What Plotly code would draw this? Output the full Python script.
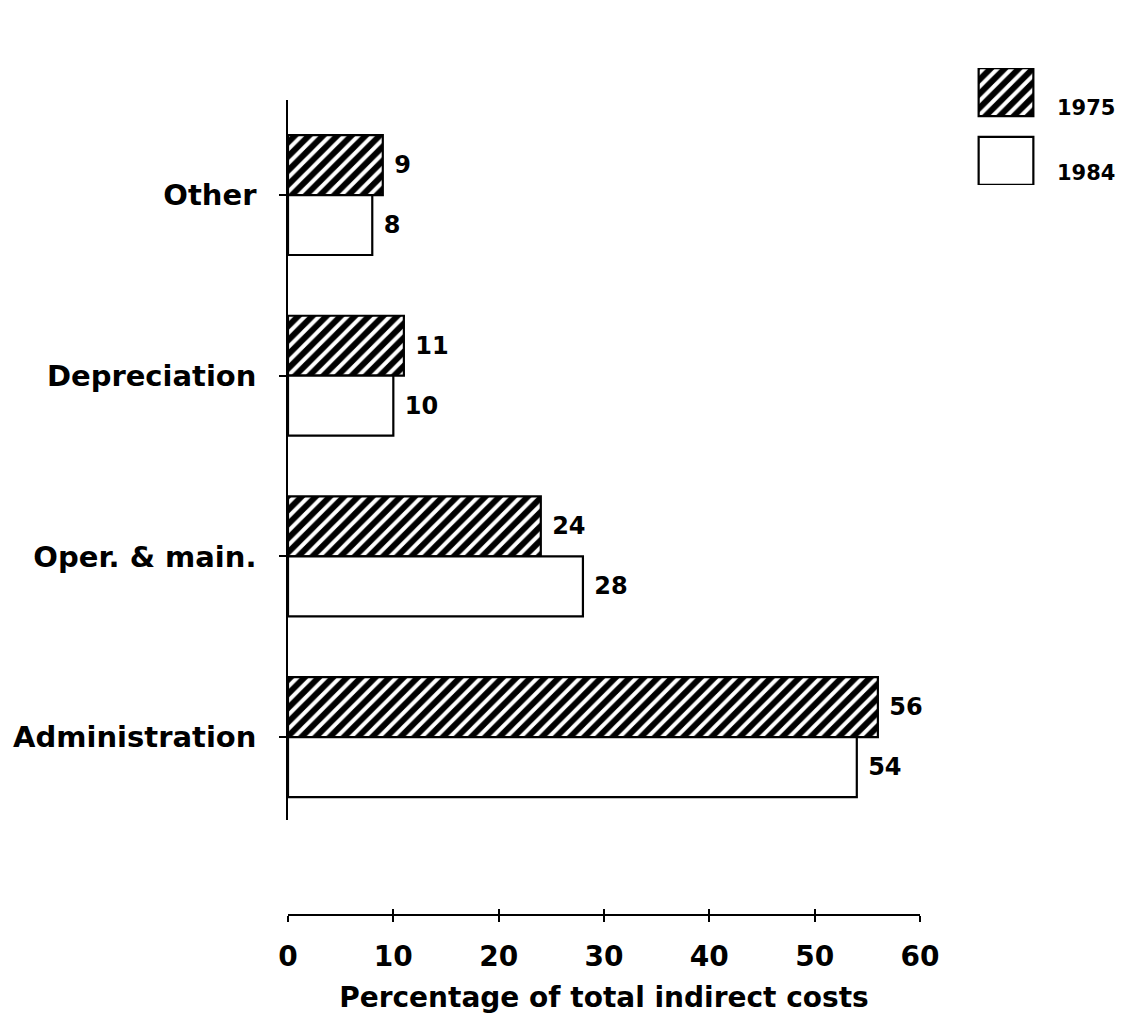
import plotly.graph_objects as go

categories = ["Administration", "Oper. & main.", "Depreciation", "Other"]
series_names = ["1975", "1984"]
values_1975 = [56, 24, 11, 9]
values_1984 = [54, 28, 10, 8]
x_ticks = [0, 10, 20, 30, 40, 50, 60]
x_title = "Percentage of total indirect costs"

# figure is offset by the 8px page margin, so size it to fill the window exactly
W, H = 1109, 1007
OFF = 8
def fx(px):
    return (px - OFF) / W
def fy(py):
    return 1 - (py - OFF) / H

FONT = "DejaVu Sans"
pos = list(range(len(categories)))
bw = 0.332

hatch = dict(shape="/", fgcolor="black", fgopacity=1, bgcolor="white", size=10, solidity=0.6)

fig = go.Figure()
fig.add_trace(go.Bar(
    y=pos, x=values_1975, orientation="h", name=series_names[0],
    width=bw, offset=0,
    marker=dict(color="white", pattern=hatch, line=dict(color="black", width=2.2)),
    text=values_1975, texttemplate="\u00a0%{text}", textposition="outside",
    cliponaxis=False, constraintext="none",
    textfont=dict(family=FONT, size=24, color="black", weight="bold"),
    showlegend=False,
))
fig.add_trace(go.Bar(
    y=pos, x=values_1984, orientation="h", name=series_names[1],
    width=bw, offset=-bw,
    marker=dict(color="white", line=dict(color="black", width=2.2)),
    text=values_1984, texttemplate="\u00a0%{text}", textposition="outside",
    cliponaxis=False, constraintext="none",
    textfont=dict(family=FONT, size=24, color="black", weight="bold"),
    showlegend=False,
))

# legend keys in a small separate axis
fig.add_trace(go.Bar(
    y=[1], x=[1], base=0, orientation="h", width=0.70,
    marker=dict(color="white", pattern=hatch, line=dict(color="black", width=2.2)),
    xaxis="x3", yaxis="y3", showlegend=False, hoverinfo="skip",
))
fig.add_trace(go.Bar(
    y=[0], x=[1], base=0, orientation="h", width=0.70,
    marker=dict(color="white", line=dict(color="black", width=2.2)),
    xaxis="x3", yaxis="y3", showlegend=False, hoverinfo="skip",
))
for i, nm in enumerate(series_names):
    fig.add_annotation(
        x=fx(1055), y=fy(107.5 if i == 0 else 172.5),
        xref="paper", yref="paper", xanchor="left", yanchor="middle",
        text=nm, showarrow=False,
        font=dict(family=FONT, size=21, color="black", weight="bold"),
    )

xdom = [fx(288), fx(920)]
xpos = fy(915)
fig.update_layout(
    width=W, height=H,
    margin=dict(l=0, r=0, t=0, b=0, autoexpand=False),
    paper_bgcolor="white", plot_bgcolor="white",
    barmode="overlay",
    font=dict(family=FONT, color="black"),
    xaxis=dict(
        domain=xdom, range=[0, 60], anchor="free", position=xpos,
        showline=True, linecolor="black", linewidth=1.5,
        ticks="outside", ticklen=6, tickwidth=1.8, tickcolor="black",
        tickvals=x_ticks, ticktext=[str(t) for t in x_ticks],
        tickfont=dict(family=FONT, size=28, color="black", weight="bold"),
        ticklabelstandoff=11,
        title=dict(text=x_title, standoff=14,
                   font=dict(family=FONT, size=28, color="black", weight="bold")),
        showgrid=False, zeroline=False, automargin=False,
    ),
    xaxis2=dict(
        domain=xdom, range=[0, 60], anchor="free", position=xpos, overlaying="x",
        showline=False, ticks="inside", ticklen=6, tickwidth=1.8, tickcolor="black",
        tickvals=x_ticks, showticklabels=False, showgrid=False, zeroline=False,
        automargin=False,
    ),
    yaxis=dict(
        domain=[fy(820), fy(100)], range=[-0.459, 3.526], anchor="x",
        showline=True, linecolor="black", linewidth=1.5,
        ticks="outside", ticklen=7, tickwidth=1.8, tickcolor="black",
        tickvals=pos, ticktext=categories,
        tickfont=dict(family=FONT, size=29, color="black", weight="bold"),
        ticklabelstandoff=17,
        showgrid=False, zeroline=False, automargin=False,
    ),
    xaxis3=dict(domain=[fx(977), fx(1035)], range=[-0.03, 1.03], anchor="y3",
                visible=False, fixedrange=True),
    yaxis3=dict(domain=[fy(185), fy(68)], range=[-0.354, 1.354], anchor="x3",
                visible=False, fixedrange=True),
)
# invisible trace to activate xaxis2
fig.add_trace(go.Scatter(x=[0], y=[0], xaxis="x2", mode="markers",
                         marker=dict(opacity=0), showlegend=False, hoverinfo="skip"))

fig.write_html("out.html")
